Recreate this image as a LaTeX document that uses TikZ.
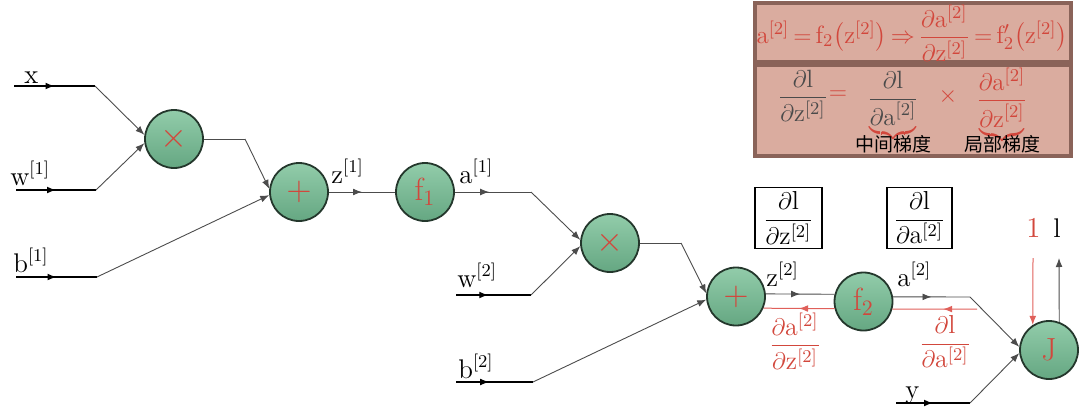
\documentclass[tikz,border=0pt]{standalone}
\usepackage{amsmath}
\usepackage{fontspec}
\newfontfamily\cjk{Noto Sans CJK SC}
\usetikzlibrary{arrows.meta,decorations.markings}
\definecolor{gtop}{HTML}{92CCAA}
\definecolor{gbot}{HTML}{65A782}
\definecolor{gedge}{HTML}{24372C}
\definecolor{rtext}{HTML}{D2473C}
\definecolor{rline}{HTML}{E0605A}
\definecolor{boxfill}{HTML}{DAAC9F}
\definecolor{boxedge}{HTML}{8A6359}
\definecolor{dtext}{HTML}{4A4A4A}
\begin{document}
\begin{tikzpicture}[x=0.5pt,y=-0.5pt,
  gate/.style={circle, draw=gedge, line width=0.9pt, minimum size=29pt, inner sep=0pt,
    top color=gtop, bottom color=gbot, text=rtext, font=\fontsize{16}{18}\selectfont},
  wire/.style={draw=black!70, line width=0.45pt},
  inwire/.style={draw=black, line width=0.6pt},
  tip/.style={-{Latex[length=4.5pt,width=3.4pt]}},
  midarr/.style={postaction={decorate}, decoration={markings,
    mark=at position #1 with {\arrow{Latex[length=4.5pt,width=3.4pt]}}}},
  midarr/.default=0.5,
  redwire/.style={draw=rline, line width=0.5pt},
  lbl/.style={inner sep=0pt, anchor=base west, font=\fontsize{13.5}{16}\selectfont},
  fbox/.style={draw=black, line width=0.6pt, fill=white, inner sep=2pt, font=\fontsize{13}{15}\selectfont},
  bigbox/.style={draw=boxedge, line width=1.6pt, fill=boxfill},
  rlbl/.style={inner sep=0pt, text=rtext, font=\fontsize{13}{15}\selectfont},
  boxmath/.style={inner sep=0pt, font=\fontsize{12.5}{15}\selectfont},
  cn/.style={inner sep=0pt, font=\cjk\fontsize{9.5}{11}\selectfont}
]
\path[use as bounding box] (0,0) rectangle (1080,412);

% gates
\node[gate] (m1) at (174,139) {$\times$};
\node[gate] (p1) at (299,192) {$+$};
\node[gate] (f1) at (425,192) {$\mathrm{f}_1$};
\node[gate] (m2) at (610,243) {$\times$};
\node[gate] (p2) at (736,296.5) {$+$};
\node[gate] (f2) at (863.5,301.5) {$\mathrm{f}_2$};
\node[gate] (J) at (1049,350) {$\mathrm{J}$};

% knee coordinates
\coordinate (xin) at (14,86);   \coordinate (xk) at (95,86);
\coordinate (win) at (16,190);  \coordinate (wk) at (96,190);
\coordinate (bin) at (16,277);  \coordinate (bk) at (97,277);
\coordinate (m1k) at (245,139);
\coordinate (f1k) at (531,192);
\coordinate (w2in) at (456,295); \coordinate (w2k) at (531,295);
\coordinate (b2in) at (456,382); \coordinate (b2k) at (533,382);
\coordinate (m2k) at (681,243);
\coordinate (f2k) at (970,297);
\coordinate (f2r) at (977,309);
\coordinate (yin) at (896,403); \coordinate (yk) at (970,403);
\coordinate (onetop) at (1033,258);
\coordinate (ltop) at (1059,258);

% forward wires
\draw[inwire, midarr] (xin) -- (xk);
\draw[wire, tip] (xk) -- (m1.172);
\draw[inwire, midarr] (win) -- (wk);
\draw[wire, tip] (wk) -- (m1.188);
\draw[inwire, midarr] (bin) -- (bk);
\draw[wire, tip] (bk) -- (p1.186);
\draw[wire] (m1.east) -- (m1k);
\draw[wire, tip] (m1k) -- (p1.174);
\draw[wire, midarr] (p1.east) -- (f1.west);
\draw[wire, midarr=0.45] (f1.east) -- (f1k);
\draw[wire, tip] (f1k) -- (m2.174);
\draw[inwire, midarr=0.43] (w2in) -- (w2k);
\draw[wire, tip] (w2k) -- (m2.186);
\draw[inwire, midarr=0.43] (b2in) -- (b2k);
\draw[wire, tip] (b2k) -- (p2.186);
\draw[wire] (m2.east) -- (m2k);
\draw[wire, tip] (m2k) -- (p2.174);
\draw[wire, midarr] (p2.5) -- (f2.166);
\draw[wire, midarr] (f2.9) -- (f2k);
\draw[wire, tip] (f2k) -- (J.174);
\draw[inwire, midarr] (yin) -- (yk);
\draw[wire, tip] (yk) -- (J.186);
\draw[wire, tip] (J.70) -- (ltop);

% backward (red) wires
\draw[redwire, midarr] (f2.194) -- (p2.337);
\draw[redwire, midarr=0.4] (f2r) -- (f2.345);
\draw[redwire, tip] (onetop) -- (J.123);

% labels
\node[lbl] at (24,83) {$\mathrm{x}$};
\node[lbl] at (10,185) {$\mathrm{w}^{[1]}$};
\node[lbl] at (13,272) {$\mathrm{b}^{[1]}$};
\node[lbl] at (331,183) {$\mathrm{z}^{[1]}$};
\node[lbl] at (459,183) {$\mathrm{a}^{[1]}$};
\node[lbl] at (457,287) {$\mathrm{w}^{[2]}$};
\node[lbl] at (458,378) {$\mathrm{b}^{[2]}$};
\node[lbl] at (766,286) {$\mathrm{z}^{[2]}$};
\node[lbl] at (897,286) {$\mathrm{a}^{[2]}$};
\node[lbl] at (905,398) {$\mathrm{y}$};
\node[lbl, text=rtext] at (1026,237) {$1$};
\node[lbl] at (1053,237) {$\mathrm{l}$};

% red derivative labels
\node[rlbl] (dadz) at (795,341) {$\dfrac{\partial \mathrm{a}^{[2]}}{\partial \mathrm{z}^{[2]}}$};
\node[rlbl] (dlda) at (945,342) {$\dfrac{\partial \mathrm{l}}{\partial \mathrm{a}^{[2]}}$};

% small framed boxes
\node[fbox, minimum width=33.5pt, minimum height=29pt] (bz) at (788.5,218) {$\dfrac{\partial \mathrm{l}}{\partial \mathrm{z}^{[2]}}$};
\node[fbox, minimum width=32.5pt, minimum height=29pt] (ba) at (919.5,218) {$\dfrac{\partial \mathrm{l}}{\partial \mathrm{a}^{[2]}}$};

% top right boxes
\draw[bigbox] (755,3) rectangle (1071,62);
\draw[bigbox] (755,65) rectangle (1071,156);
\node[boxmath, text=rtext] (eq1) at (912,33)
  {$\thickmuskip=3mu\mathrm{a}^{[2]} = \mathrm{f}_2\big(\mathrm{z}^{[2]}\big) \Rightarrow \dfrac{\partial \mathrm{a}^{[2]}}{\partial \mathrm{z}^{[2]}} = \mathrm{f}'_2\big(\mathrm{z}^{[2]}\big)$};
\node[boxmath, text=dtext] (q1) at (803,96)
  {$\dfrac{\partial \mathrm{l}}{\partial \mathrm{z}^{[2]}}$};
\node[boxmath, text=rtext] (eqs) at (838,95) {$=$};
\node[boxmath, text=dtext, anchor=north] (q2) at (893,71)
  {$\dfrac{\partial \mathrm{l}}{\color{rtext}\underbrace{\color{dtext}\partial \mathrm{a}^{[2]}}}$};
\node[boxmath, text=rtext] (tms) at (948,96) {$\times$};
\node[boxmath, text=rtext, anchor=north] (q3) at (1002,68)
  {$\dfrac{\partial \mathrm{a}^{[2]}}{\underbrace{\partial \mathrm{z}^{[2]}}}$};
\node[cn] (c1) at (893,144) {中间梯度};
\node[cn] (c2) at (1002,144) {局部梯度};
\end{tikzpicture}
\end{document}
